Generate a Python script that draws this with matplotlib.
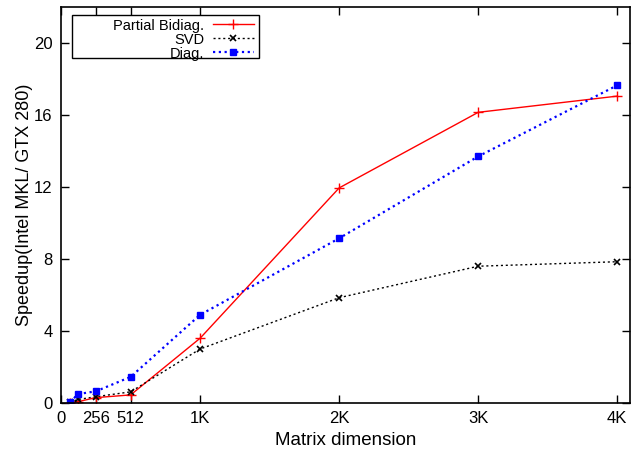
import matplotlib
matplotlib.use('Agg')
import matplotlib.pyplot as plt
from matplotlib.patches import Rectangle

plt.rcParams['font.family'] = ['Liberation Sans', 'DejaVu Sans']

# Matrix dimension and speedups
dims = [64, 128, 256, 512, 1024, 2048, 3072, 4096]
partial_bidiag = [0.02, 0.08, 0.3, 0.45, 3.6, 11.95, 16.15, 17.05]
svd = [0.05, 0.2, 0.35, 0.62, 3.0, 5.85, 7.6, 7.85]
diag = [0.05, 0.5, 0.65, 1.45, 4.9, 9.15, 13.7, 17.65]

xtick_vals = [0, 256, 512, 1024, 2048, 3072, 4096]
xtick_labels = ['0', '256', '512', '1K', '2K', '3K', '4K']
ytick_vals = [0, 4, 8, 12, 16, 20]

fig = plt.figure(figsize=(6.36, 4.5), dpi=100)
ax = fig.add_axes([0.096, 0.1044, 0.8946, 0.88])

ax.plot(dims, partial_bidiag, color='red', lw=1.0, marker='+', ms=7, mew=1.0,
        label='Partial Bidiag.')
ax.plot(dims, svd, color='black', lw=1.0, ls=(0, (1.5, 2)), marker='x', ms=5, mew=1.2,
        label='SVD')
ax.plot(dims, diag, color='blue', lw=1.6, ls=(0, (1, 1.6)), marker='s', ms=5,
        label='Diag.')

ax.set_xlim(0, 4190)
ax.set_ylim(0, 22)
ax.set_xticks(xtick_vals)
ax.set_xticklabels(xtick_labels)
ax.set_yticks(ytick_vals)
ax.tick_params(direction='in', top=True, right=True, length=6, width=1,
               labelsize=12, pad=6)
for s in ax.spines.values():
    s.set_linewidth(1.2)

ax.set_xlabel('Matrix dimension', fontsize=13.5, labelpad=4)
ax.set_ylabel('Speedup(Intel MKL/ GTX 280)', fontsize=13, labelpad=1)

# gnuplot-style key: fixed box, labels right aligned, samples on the right
ax.add_patch(Rectangle((0.0193, 0.871), 0.329, 0.109, transform=ax.transAxes,
                       fill=False, edgecolor='black', lw=1.0, zorder=5))
leg = ax.legend(loc='upper right', bbox_to_anchor=(0.344, 0.978), markerfirst=False,
                fontsize=10.5, frameon=False, borderpad=0.2, labelspacing=0.02,
                handlelength=2.8, handletextpad=0.6, borderaxespad=0)
for vp in leg._legend_box.get_children()[1].get_children():
    vp.align = 'right'
    for hp in vp.get_children():
        hp.align = 'right'

fig.savefig('out.png', dpi=100)
